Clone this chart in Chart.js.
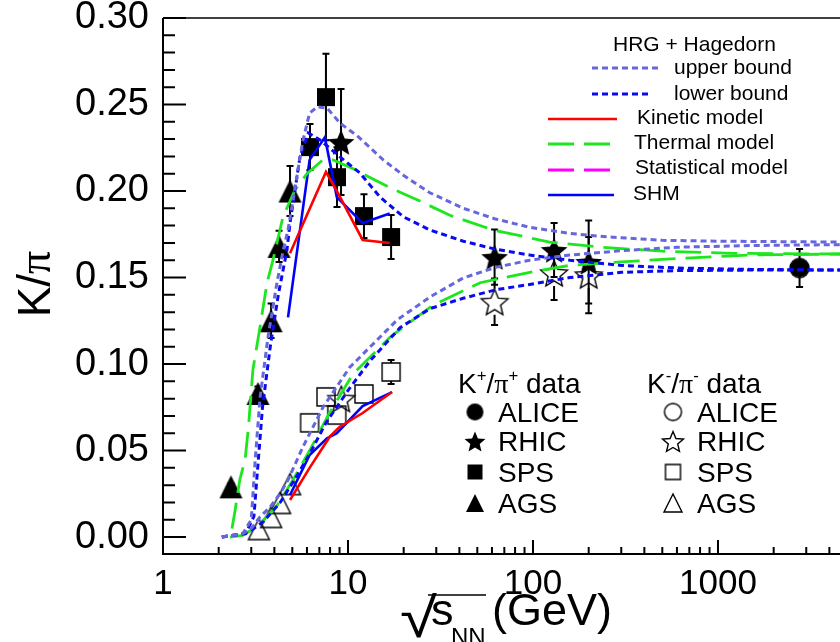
<!DOCTYPE html>
<html>
<head>
<meta charset="utf-8">
<script src="https://cdn.jsdelivr.net/npm/chart.js@4.4.1/dist/chart.umd.min.js"></script>
<style>
  html, body { margin: 0; padding: 0; background: #fff; overflow: hidden; }
  #wrap { position: relative; width: 840px; height: 642px; }
</style>
</head>
<body>
<div id="wrap"><canvas id="chart" width="840" height="642"></canvas></div>
<script>
// K/pi ratio vs sqrt(s_NN) [GeV]

// ── axis ticks ─────────────────────────────────────────
const xTickVals = [1, 10, 100, 1000];
const yTickVals = [0, 0.05, 0.10, 0.15, 0.20, 0.25, 0.30];

// ── K+/pi+ data (filled) ───────────────────────────────
const agsKpX   = [2.33, 3.26, 3.84, 4.24, 4.86];
const agsKpY   = [0.029, 0.083, 0.125, 0.168, 0.200];
const agsKpErr = [0.002, 0.004, 0.010, 0.009, 0.0145];
const spsKpX   = [6.23, 7.6, 8.72, 12.2, 17.1];
const spsKpY   = [0.2254, 0.2543, 0.208, 0.1855, 0.1734];
const spsKpErr = [0.0133, 0.025, 0.0173, 0.0127, 0.0127];
const rhicKpX   = [9.17, 62, 130, 200];
const rhicKpY   = [0.2283, 0.1618, 0.1659, 0.159];
const rhicKpErr = [0.0306, 0.016, 0.0156, 0.024];
const aliceKpX   = [2760];
const aliceKpY   = [0.1555];
const aliceKpErr = [0.011];

// ── K-/pi- data (open) ─────────────────────────────────
const agsKmX   = [3.30, 3.84, 4.29, 4.86];
const agsKmY   = [0.0046, 0.0116, 0.0197, 0.0306];
const spsKmX   = [6.2, 7.6, 8.7, 12.2, 17.1];
const spsKmY   = [0.066, 0.081, 0.0705, 0.0827, 0.0954];
const spsKmErr = [0.003, 0.003, 0.003, 0.003, 0.007];
const rhicKmX   = [9.2, 62, 130, 200];
const rhicKmY   = [0.080, 0.136, 0.1526, 0.1514];
const rhicKmErr = [0.007, 0.0135, 0.0156, 0.022];
const aliceKmX = [2760];
const aliceKmY = [0.1555];

// ── model curves ───────────────────────────────────────
const upKpX = [2.08, 2.7, 3.0, 3.15, 3.35, 3.7, 4.1, 4.45, 4.74, 5.05, 5.4, 5.7, 6.2, 6.8, 7.7, 9.1, 11.2, 15.5, 20, 27.7, 42, 62, 96, 158, 250, 500, 1000, 4600];
const upKpY = [0, 0.002, 0.01, 0.0445, 0.081, 0.116, 0.145, 0.165, 0.1775, 0.195, 0.214, 0.229, 0.245, 0.2486, 0.248, 0.239, 0.232, 0.218, 0.209, 0.199, 0.190, 0.184, 0.179, 0.1755, 0.1735, 0.1715, 0.171, 0.1705];
const loKpX = [2.08, 2.8, 3.1, 3.25, 3.45, 3.8, 4.2, 4.68, 4.86, 5.17, 5.5, 6.1, 7.06, 9.06, 11.6, 14.9, 20, 27.7, 42, 62, 96, 158, 300, 600, 1500, 4600];
const loKpY = [0, 0.002, 0.012, 0.04, 0.075, 0.11, 0.14, 0.166, 0.1815, 0.2006, 0.2197, 0.2335, 0.2295, 0.2197, 0.2104, 0.1965, 0.185, 0.1775, 0.171, 0.1665, 0.163, 0.160, 0.157, 0.1555, 0.1547, 0.1543];
const thKpX = [2.36, 2.45, 2.6, 2.78, 2.9, 3.06, 3.34, 3.65, 3.93, 4.45, 5.17, 6.0, 7.3, 8.3, 10.6, 16.8, 23.6, 35.5, 60.8, 123, 230, 500, 1200, 4600];
const thKpY = [0.005, 0.015, 0.033, 0.045, 0.064, 0.0965, 0.121, 0.147, 0.160, 0.185, 0.2006, 0.210, 0.218, 0.218, 0.213, 0.202, 0.195, 0.186, 0.1775, 0.1705, 0.1676, 0.1652, 0.164, 0.1636];
const kinKpX = [4.86, 7.6, 8.8, 12.0, 16.8];
const kinKpY = [0.164, 0.211, 0.199, 0.1717, 0.170];
const shmKpX = [4.74, 6.2, 7.5, 8.7, 12.0, 16.8];
const shmKpY = [0.127, 0.218, 0.231, 0.1965, 0.1815, 0.187];

const upKmX = [2.08, 2.7, 3.0, 3.34, 3.79, 4.29, 4.74, 5.3, 5.7, 7.33, 10.2, 13.2, 18.4, 27.7, 41.9, 63.5, 96, 158, 300, 600, 1500, 4600];
const upKmY = [0, 0.002, 0.005, 0.0116, 0.0173, 0.025, 0.033, 0.0445, 0.052, 0.075, 0.098, 0.110, 0.1254, 0.1387, 0.1497, 0.156, 0.160, 0.163, 0.1655, 0.1675, 0.1685, 0.169];
const loKmX = [2.08, 2.7, 3.0, 3.5, 4.3, 5.2, 6.2, 7.6, 10.2, 13.2, 19.1, 27.7, 41.9, 63.5, 96, 158, 300, 600, 1500, 4600];
const loKmY = [0, 0.002, 0.004, 0.009, 0.02, 0.034, 0.048, 0.066, 0.086, 0.102, 0.121, 0.132, 0.138, 0.143, 0.146, 0.150, 0.153, 0.154, 0.1543, 0.1543];
const thKmX = [2.3, 2.7, 3.22, 4.13, 5.04, 6.2, 7.97, 10.6, 16.9, 28.8, 51.8, 96, 158, 300, 600, 1500, 4600];
const thKmY = [0, 0.001, 0.006, 0.018, 0.033, 0.050, 0.072, 0.094, 0.1156, 0.134, 0.147, 0.153, 0.157, 0.159, 0.161, 0.163, 0.1636];
const kinKmX = [4.86, 6.2, 7.97, 9.0, 12.0, 17.3];
const kinKmY = [0.0214, 0.040, 0.058, 0.0636, 0.0717, 0.0838];
const shmKmX = [4.86, 6.2, 7.7, 8.7, 12.0, 17.3];
const shmKmY = [0.0243, 0.0474, 0.057, 0.060, 0.0757, 0.0838];

// ── styles ─────────────────────────────────────────────
const SANS  = "'Liberation Sans', Arial, sans-serif";
const SERIF = "'Liberation Serif', 'Times New Roman', serif";
const UPPER   = { color: '#6666dd', width: 3,   dash: [6, 4] };
const LOWER   = { color: '#0a0af0', width: 3,   dash: [6, 4] };
const THERMAL = { color: '#1ee61e', width: 2.8, dash: [26, 10] };
const STAT    = { color: '#ff00ff', width: 2.8, dash: [26, 10] };
const KINETIC = { color: '#ff0000', width: 2.6, dash: [] };
const SHM     = { color: '#0000ff', width: 2.6, dash: [] };

const pts = (xs, ys) => xs.map((x, i) => ({ x, y: ys[i] }));

function markerImg(shape, size, filled) {
  const pad = 3, c = document.createElement('canvas');
  c.width = c.height = Math.ceil(size + pad * 2);
  const g = c.getContext('2d'), m = c.width / 2, r = size / 2;
  g.beginPath();
  if (shape === 'circle') g.arc(m, m, r, 0, Math.PI * 2);
  else if (shape === 'square') g.rect(m - r, m - r, size, size);
  else if (shape === 'triangle') { g.moveTo(m, m - r); g.lineTo(m + r, m + r); g.lineTo(m - r, m + r); g.closePath(); }
  else if (shape === 'star') {
    for (let i = 0; i < 10; i++) {
      const a = -Math.PI / 2 + i * Math.PI / 5, rr = i % 2 ? r * 0.45 : r;
      g.lineTo(m + rr * Math.cos(a), m + 1.5 + rr * Math.sin(a));
    }
    g.closePath();
  }
  if (filled) { g.fillStyle = '#000'; g.fill(); }
  else { g.lineWidth = 1.4; g.strokeStyle = '#000'; g.stroke(); }
  return c;
}

const MK = {
  circle:   markerImg('circle', 19, true),
  star:     markerImg('star', 28, true),
  square:   markerImg('square', 18, true),
  triangle: markerImg('triangle', 23, true),
  oCircle:   markerImg('circle', 19, false),
  oStar:     markerImg('star', 28, false),
  oSquare:   markerImg('square', 18, false),
  oTriangle: markerImg('triangle', 21, false)
};
const LG = {
  circle:   markerImg('circle', 17, true),
  star:     markerImg('star', 22, true),
  square:   markerImg('square', 15, true),
  triangle: markerImg('triangle', 18, true),
  oCircle:   markerImg('circle', 17, false),
  oStar:     markerImg('star', 22, false),
  oSquare:   markerImg('square', 15, false),
  oTriangle: markerImg('triangle', 18, false)
};

function curve(xs, ys, st) {
  return {
    data: pts(xs, ys), showLine: true, pointRadius: 0, order: 1,
    borderColor: st.color, borderWidth: st.width, borderDash: st.dash, tension: 0, fill: false
  };
}
function markers(xs, ys, img, err, gap) {
  return {
    data: pts(xs, ys), showLine: false, pointRadius: 10, order: 2,
    pointStyle: img, yErr: err, errGap: gap || 0
  };
}

// ── plugins ────────────────────────────────────────────
const errorBars = {
  id: 'errorBars',
  beforeDatasetsDraw(chart) {
    const { ctx } = chart, ys = chart.scales.y;
    ctx.save();
    ctx.strokeStyle = '#000';
    ctx.lineWidth = 2;
    chart.data.datasets.forEach((ds, di) => {
      if (!ds.yErr) return;
      chart.getDatasetMeta(di).data.forEach((pt, i) => {
        const e = ds.yErr[i];
        if (!e) return;
        const v = ds.data[i].y, gap = ds.errGap;
        const yt = ys.getPixelForValue(v + e), yb = ys.getPixelForValue(v - e);
        ctx.beginPath();
        if (pt.y - gap > yt) {
          ctx.moveTo(pt.x, pt.y - gap); ctx.lineTo(pt.x, yt);
          ctx.moveTo(pt.x - 3.5, yt); ctx.lineTo(pt.x + 3.5, yt);
        }
        if (pt.y + gap < yb) {
          ctx.moveTo(pt.x, pt.y + gap); ctx.lineTo(pt.x, yb);
          ctx.moveTo(pt.x - 3.5, yb); ctx.lineTo(pt.x + 3.5, yb);
        }
        ctx.stroke();
      });
    });
    ctx.restore();
  }
};

function richText(ctx, segs, x, y, size) {
  let cx = x;
  segs.forEach(s => {
    const fs = s.sup ? size * 0.6 : size;
    ctx.font = `${fs}px ${s.serif ? SERIF : SANS}`;
    ctx.fillText(s.t, cx, s.sup ? y - size * 0.42 : y);
    cx += ctx.measureText(s.t).width;
  });
  return cx;
}
function richWidth(ctx, segs, size) {
  let w = 0;
  segs.forEach(s => {
    ctx.font = `${s.sup ? size * 0.6 : size}px ${s.serif ? SERIF : SANS}`;
    w += ctx.measureText(s.t).width;
  });
  return w;
}

const frame = {
  id: 'frame',
  afterDraw(chart) {
    const { ctx, chartArea: a, scales: { x, y } } = chart;
    ctx.save();
    ctx.strokeStyle = '#000';
    ctx.lineWidth = 2;
    ctx.beginPath();
    ctx.moveTo(a.left, a.top); ctx.lineTo(a.left, a.bottom); ctx.lineTo(a.right, a.bottom);
    ctx.stroke();
    ctx.lineWidth = 1.5;
    ctx.beginPath(); ctx.moveTo(a.left, a.top); ctx.lineTo(a.right, a.top); ctx.stroke();
    ctx.lineWidth = 2;
    ctx.beginPath();
    for (let i = 0; i <= 30; i++) {
      const py = y.getPixelForValue(i / 100), len = i % 5 ? 12 : 23;
      ctx.moveTo(a.left, py); ctx.lineTo(a.left + len, py);
    }
    for (let d = 1; d < x.max; d *= 10) {
      for (let k = 1; k < 10; k++) {
        if (d * k > x.max) break;
        const px = x.getPixelForValue(d * k), len = k === 1 ? 14 : 7;
        ctx.moveTo(px, a.bottom); ctx.lineTo(px, a.bottom - len);
      }
    }
    ctx.stroke();
    ctx.restore();
  }
};

const annotations = {
  id: 'annotations',
  afterDraw(chart) {
    const { ctx } = chart;
    ctx.save();
    ctx.fillStyle = '#000';
    ctx.textBaseline = 'alphabetic';
    ctx.textAlign = 'left';

    // y title  K/π
    const yt = [{ t: 'K' }, { t: '/' }, { t: 'π', serif: true }];
    ctx.save();
    ctx.translate(50, 284);
    ctx.rotate(-Math.PI / 2);
    richText(ctx, yt, -richWidth(ctx, yt, 46) / 2, 0, 46);
    ctx.restore();

    // x title  √(s_NN) (GeV)
    ctx.save();
    ctx.translate(400, 637);
    ctx.scale(1.2, 1);
    ctx.font = `56px ${SANS}`;
    ctx.fillText('√', 0, 0);
    ctx.restore();
    ctx.strokeStyle = '#000';
    ctx.lineWidth = 1.5;
    ctx.beginPath(); ctx.moveTo(428, 595); ctx.lineTo(486, 595); ctx.stroke();
    ctx.font = `45px ${SANS}`;
    ctx.fillText('s', 431, 625);
    ctx.font = `24px ${SANS}`;
    ctx.fillText('NN', 451, 645);
    ctx.font = `45px ${SANS}`;
    ctx.fillText('(GeV)', 492, 625);

    // model legend
    ctx.font = `21px ${SANS}`;
    ctx.fillText('HRG + Hagedorn', 613, 51);
    const rows = [
      [UPPER, 592, 659, 68, 674, 74, 'upper bound'],
      [LOWER, 592, 650, 94, 674, 100, 'lower bound'],
      [KINETIC, 548, 617, 119, 637, 124, 'Kinetic model'],
      [THERMAL, 548, 617, 144, 634, 149, 'Thermal model'],
      [STAT, 548, 614, 170, 635, 174, 'Statistical model'],
      [SHM, 548, 614, 195, 633, 200, 'SHM']
    ];
    rows.forEach(([st, x1, x2, ly, tx, ty, label]) => {
      ctx.strokeStyle = st.color;
      ctx.lineWidth = st.width;
      ctx.setLineDash(st.dash);
      ctx.beginPath(); ctx.moveTo(x1, ly); ctx.lineTo(x2, ly); ctx.stroke();
      ctx.setLineDash([]);
      ctx.fillText(label, tx, ty);
    });

    // data legend
    richText(ctx, [{ t: 'K' }, { t: '+', sup: true }, { t: '/' }, { t: 'π', serif: true }, { t: '+', sup: true }, { t: ' data' }], 458, 393, 28);
    richText(ctx, [{ t: 'K' }, { t: '-', sup: true }, { t: '/' }, { t: 'π', serif: true }, { t: '-', sup: true }, { t: ' data' }], 647, 393, 28);
    const names = ['ALICE', 'RHIC', 'SPS', 'AGS'];
    const filled = [LG.circle, LG.star, LG.square, LG.triangle];
    const open = [LG.oCircle, LG.oStar, LG.oSquare, LG.oTriangle];
    const cy = [412, 441, 472, 503];
    ctx.font = `28px ${SANS}`;
    names.forEach((n, i) => {
      ctx.drawImage(filled[i], 475 - filled[i].width / 2, cy[i] - filled[i].height / 2);
      ctx.fillText(n, 498, cy[i] + 10);
      ctx.drawImage(open[i], 673 - open[i].width / 2, cy[i] - open[i].height / 2);
      ctx.fillText(n, 697, cy[i] + 10);
    });
    ctx.restore();
  }
};

// ── chart ──────────────────────────────────────────────
new Chart(document.getElementById('chart'), {
  type: 'scatter',
  data: {
    datasets: [
      markers(aliceKmX, aliceKmY, MK.oCircle, null, 9),
      markers(rhicKmX, rhicKmY, MK.oStar, rhicKmErr, 13),
      markers(spsKmX, spsKmY, MK.oSquare, spsKmErr, 9),
      markers(agsKmX, agsKmY, MK.oTriangle, null, 10),
      markers(aliceKpX, aliceKpY, MK.circle, aliceKpErr),
      markers(rhicKpX, rhicKpY, MK.star, rhicKpErr),
      markers(spsKpX, spsKpY, MK.square, spsKpErr),
      markers(agsKpX, agsKpY, MK.triangle, agsKpErr),
      curve(upKpX, upKpY, UPPER),
      curve(upKmX, upKmY, UPPER),
      curve(loKpX, loKpY, LOWER),
      curve(loKmX, loKmY, LOWER),
      curve(thKpX, thKpY, THERMAL),
      curve(thKmX, thKmY, THERMAL),
      curve(kinKpX, kinKpY, KINETIC),
      curve(kinKmX, kinKmY, KINETIC),
      curve(shmKpX, shmKpY, SHM),
      curve(shmKmX, shmKmY, SHM)
    ]
  },
  options: {
    responsive: false,
    animation: false,
    layout: { autoPadding: false, padding: { top: 18, right: 0, bottom: 0, left: 0 } },
    plugins: { legend: { display: false }, tooltip: { enabled: false } },
    events: [],
    scales: {
      x: {
        type: 'logarithmic',
        min: 1,
        max: 4566,
        grid: { display: false },
        border: { display: false },
        afterBuildTicks: s => { s.ticks = xTickVals.map(v => ({ value: v })); },
        afterFit: s => { s.height = 88; s.paddingLeft = 0; s.paddingRight = 0; },
        ticks: {
          autoSkip: false, maxRotation: 0, padding: 1, color: '#000',
          font: { family: SANS, size: 35 },
          callback: v => String(v)
        }
      },
      y: {
        min: -0.0098,
        max: 0.30,
        grid: { display: false },
        border: { display: false },
        afterBuildTicks: s => { s.ticks = yTickVals.map(v => ({ value: v })); },
        afterFit: s => { s.width = 163; s.paddingTop = 0; s.paddingBottom = 0; },
        ticks: {
          padding: 6, color: '#000',
          font: { family: SANS, size: 38 },
          callback: v => v.toFixed(2)
        }
      }
    }
  },
  plugins: [errorBars, frame, annotations]
});
</script>
</body>
</html>
